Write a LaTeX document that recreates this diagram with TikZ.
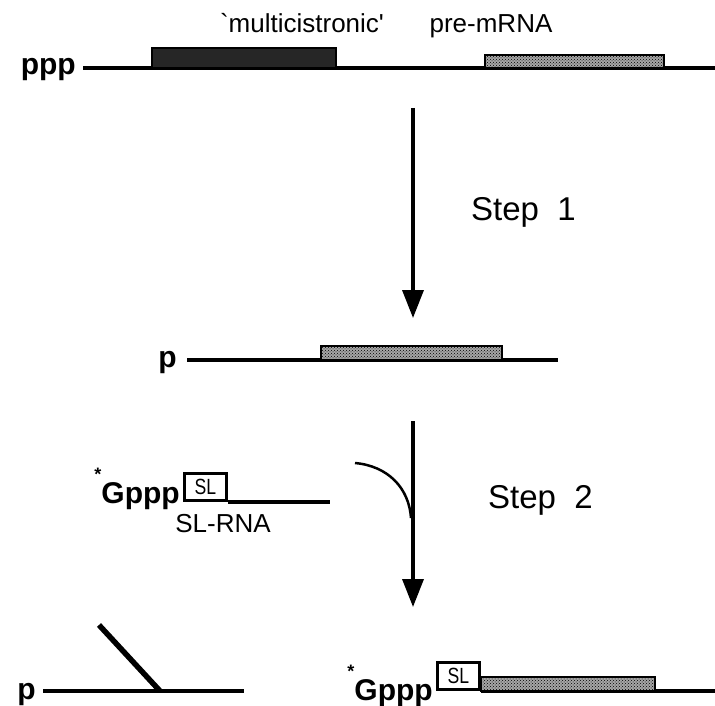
\documentclass[tikz,border=0pt]{standalone}
\usepackage{fontspec}
\setmainfont{Liberation Sans}
\newfontfamily\plainquote{Liberation Sans}[Ligatures=ResetAll]
\usepackage{tikz}
\usetikzlibrary{calc}
\usetikzlibrary{arrows.meta}
\usetikzlibrary{patterns}

\begin{document}
\begin{tikzpicture}[x=1pt,y=-1pt,
    rna/.style={line width=3.5pt},
    exonblack/.style={draw=black,fill=black!85,line width=1.5pt},
    exondots/.style={draw=black,line width=2.5pt,preaction={fill=black!35},pattern=crosshatch dots},
    slbox/.style={draw=black,line width=3pt,fill=white,inner sep=0pt,
        minimum width=42pt,minimum height=27pt,font=\fontsize{22}{22}\selectfont},
    flow/.style={line width=3.5pt,-{Triangle[length=28pt,width=21pt]}},
    endlab/.style={inner sep=0pt,font=\fontsize{30}{30}\selectfont\bfseries},
    steplab/.style={inner sep=0pt,font=\fontsize{33}{33}\selectfont},
    txt/.style={inner sep=0pt,font=\fontsize{26}{26}\selectfont}]
    \useasboundingbox (0,0) rectangle (715,706);

    % top: pre-mRNA
    \coordinate (a0) at (83,68);
    \coordinate (a1) at (715,68);
    \node[endlab,anchor=base east] (ppp) at (76,75) {ppp};
    \draw[rna] (a0) -- (a1);
    \draw[exonblack] (152,48) rectangle (336,68);
    \draw[exondots] (485,55) rectangle (664,68);
    \node[txt,anchor=base] (multi) at (302,33) {\plainquote `multicistronic'};
    \node[txt,anchor=base] (pre) at (491,33) {pre-mRNA};

    % step 1
    \coordinate (s1a) at (413,108);
    \coordinate (s1b) at (413,318);
    \draw[flow] (s1a) -- (s1b);
    \node[steplab,anchor=base west] (step1) at (471,220) {Step\ \ 1};

    % middle: p
    \coordinate (b0) at (187,360);
    \coordinate (b1) at (558,360);
    \node[endlab,anchor=base east] (p1) at (177,367) {p};
    \draw[rna] (b0) -- (b1);
    \draw[exondots] (321,346) rectangle (502,360);

    % SL-RNA
    \node[slbox,anchor=south west] (sl1) at (183,502) {\scalebox{0.8}[1]{SL}};
    \coordinate (c1) at (330,502);
    \node[endlab,anchor=base east] (g1) at (180,503)
        {\raisebox{0.75em}{\fontsize{18}{18}\selectfont *}Gppp};
    \draw[rna] (sl1.south east) -- (c1);
    \node[txt,anchor=base] (slrna) at (223,532) {SL-RNA};

    % step 2
    \coordinate (s2a) at (413,421);
    \coordinate (s2b) at (413,607);
    \coordinate (s2j) at (411,518);
    \coordinate (s2c) at (355,463);
    \draw[flow] (s2a) -- (s2b);
    \draw[line width=2.5pt] (s2c) .. controls (388,466) and (409,488) .. (s2j);
    \node[steplab,anchor=base west] (step2) at (488,508) {Step\ \ 2};

    % bottom left: lariat
    \coordinate (d0) at (43,691);
    \coordinate (d1) at (244,691);
    \coordinate (dj) at (160,691);
    \coordinate (dt) at (99,625);
    \node[endlab,anchor=base east] (p2) at (36,699) {p};
    \draw[rna] (d0) -- (d1);
    \draw[line width=5.5pt] (dt) -- (dj);

    % bottom right: trans-spliced
    \node[slbox,anchor=south west] (sl2) at (436,691) {\scalebox{0.8}[1]{SL}};
    \coordinate (e1) at (715,691);
    \node[endlab,anchor=base east] (g2) at (433,700)
        {\raisebox{0.75em}{\fontsize{18}{18}\selectfont *}Gppp};
    \draw[rna] (sl2.south east) -- (e1);
    \draw[exondots] (sl2.south east) ++(0,-14) rectangle (655,691);
\end{tikzpicture}
\end{document}
